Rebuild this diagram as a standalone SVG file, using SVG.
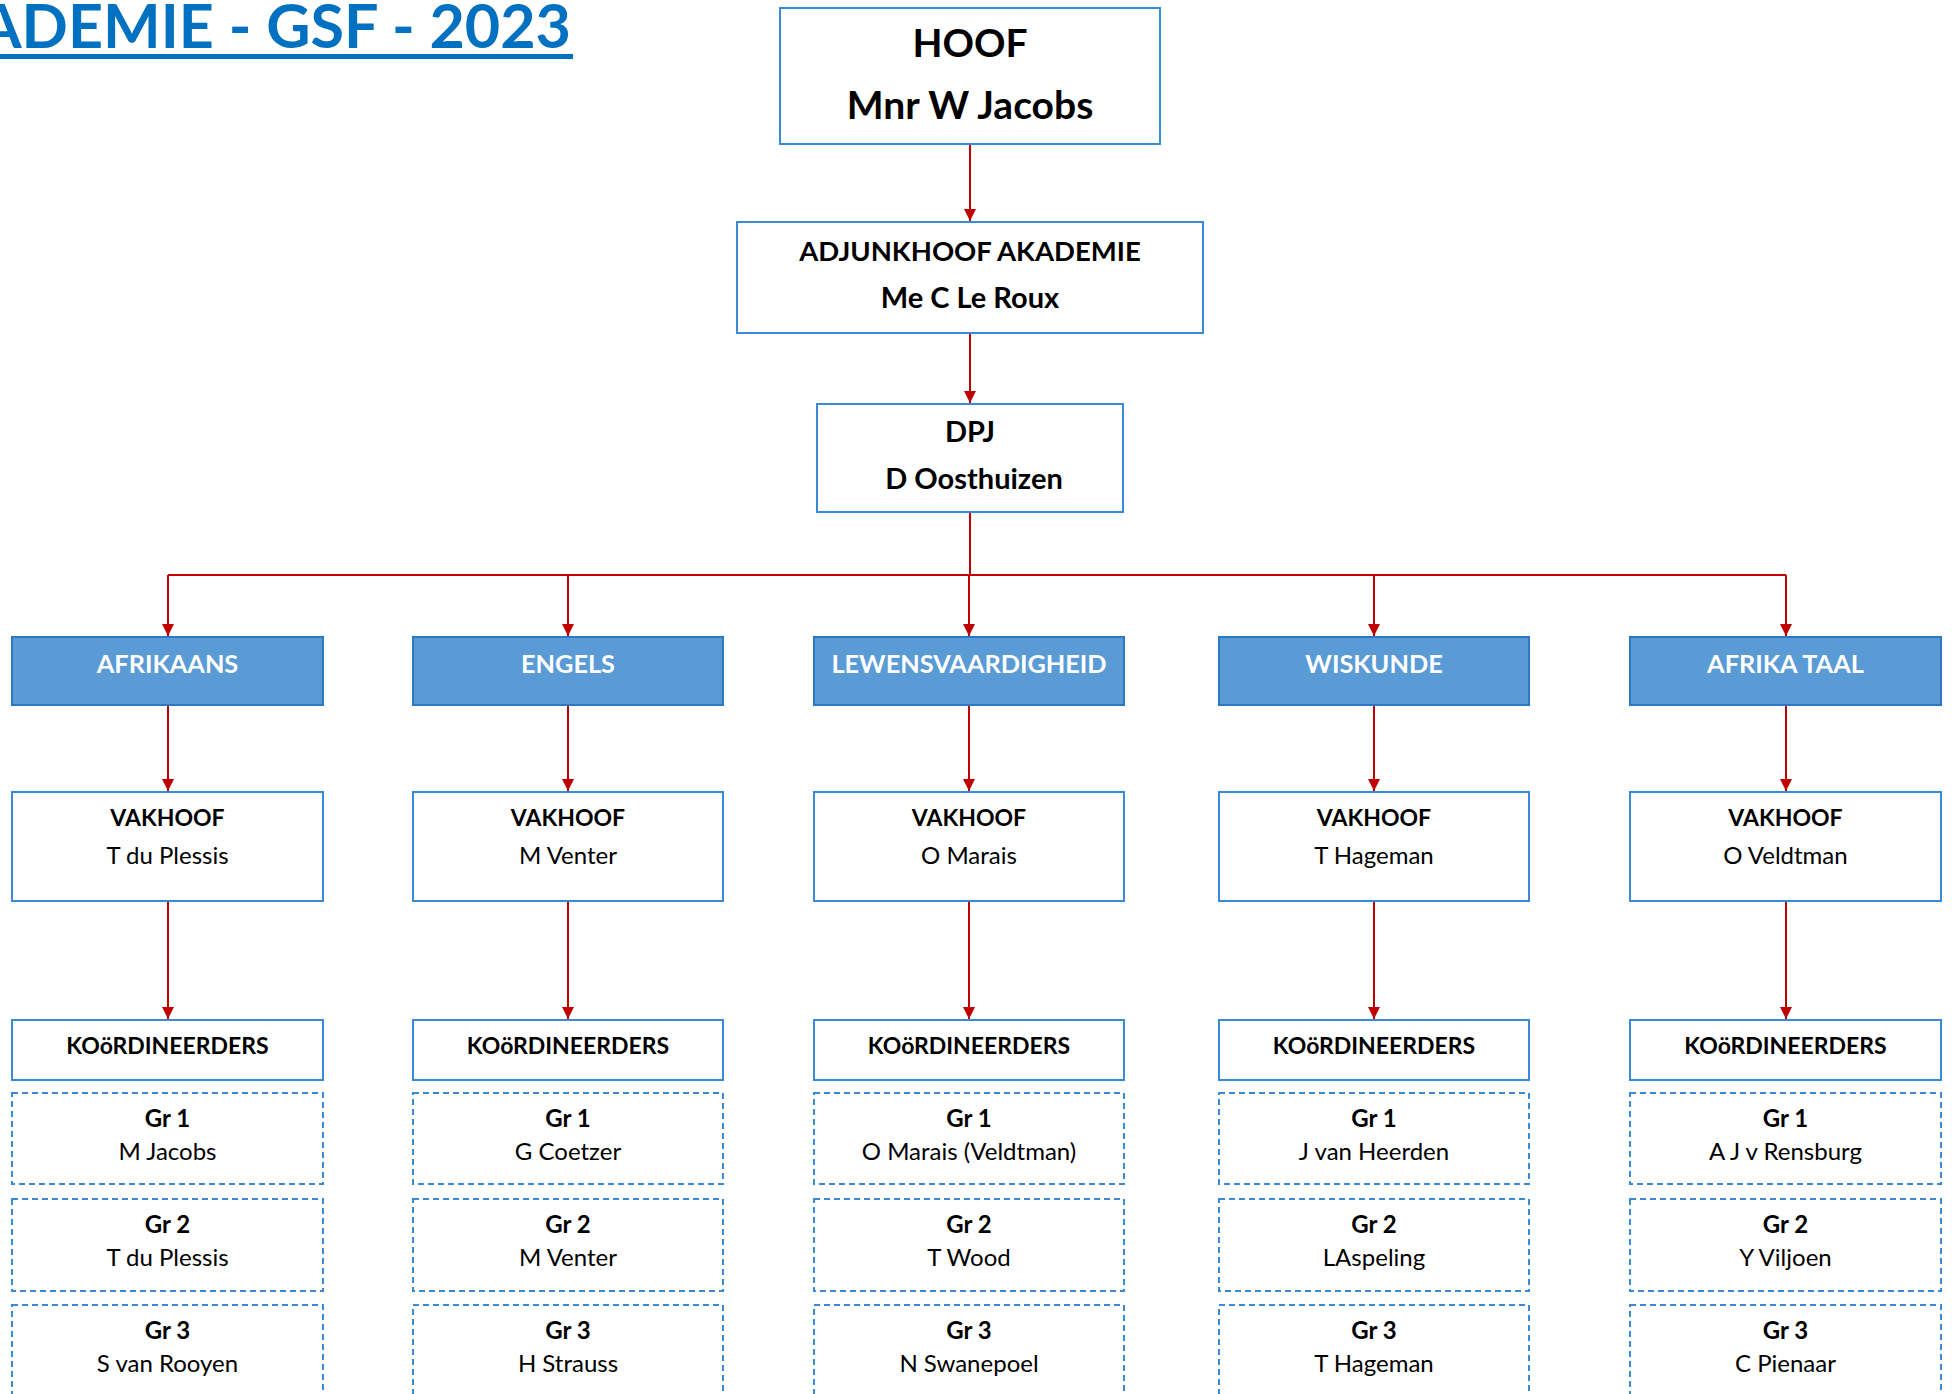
<svg xmlns="http://www.w3.org/2000/svg" width="1952" height="1394" viewBox="0 0 1952 1394">
<style>
text{font-family:Lato,"Open Sans","Liberation Sans",sans-serif;text-anchor:middle;fill:#000}
.b{font-weight:700}
.box{fill:#fff;stroke:#3A8BD6;stroke-width:2}
.hdr{fill:#5B9BD5;stroke:#2A78C6;stroke-width:2}
.dash{fill:#fff;stroke:#3A8BD6;stroke-width:2;stroke-dasharray:6 4}
.t1{font-size:39px;font-weight:700}
.t2{font-size:29px;font-weight:700}
.t2u{font-size:27.5px;font-weight:700}
.th{font-size:25.3px;font-weight:700;fill:#fff}
.t3{font-size:24px}
.tu{font-size:23px;font-weight:700}
.conn{fill:none;stroke:#C00000;stroke-width:2}
</style>
<defs>
<marker id="arr" markerUnits="userSpaceOnUse" markerWidth="12" markerHeight="12" refX="10" refY="5" orient="auto" viewBox="0 0 10 10">
<path d="M0,0 L10,5 L0,10 z" fill="#C00000"/>
</marker>
</defs>
<rect width="1952" height="1394" fill="#fff"/>
<g id="title">
<text x="571" y="48" style="font-size:61px;font-weight:700;fill:#0070C0;text-anchor:end">ADEMIE - GSF - 2023</text>
<rect x="0" y="54" width="573" height="5" fill="#0070C0"/>
</g>
<g id="connectors">
<path class="conn" d="M970,144 V221" marker-end="url(#arr)"/>
<path class="conn" d="M970,333 V403" marker-end="url(#arr)"/>
<path class="conn" d="M970,512 V575 M168,575 H1786"/>
<path class="conn" d="M168,575 V636" marker-end="url(#arr)"/>
<path class="conn" d="M568,575 V636" marker-end="url(#arr)"/>
<path class="conn" d="M969,575 V636" marker-end="url(#arr)"/>
<path class="conn" d="M1374,575 V636" marker-end="url(#arr)"/>
<path class="conn" d="M1786,575 V636" marker-end="url(#arr)"/>
<path class="conn" d="M168,705 V791" marker-end="url(#arr)"/>
<path class="conn" d="M568,705 V791" marker-end="url(#arr)"/>
<path class="conn" d="M969,705 V791" marker-end="url(#arr)"/>
<path class="conn" d="M1374,705 V791" marker-end="url(#arr)"/>
<path class="conn" d="M1786,705 V791" marker-end="url(#arr)"/>
<path class="conn" d="M168,901 V1019" marker-end="url(#arr)"/>
<path class="conn" d="M568,901 V1019" marker-end="url(#arr)"/>
<path class="conn" d="M969,901 V1019" marker-end="url(#arr)"/>
<path class="conn" d="M1374,901 V1019" marker-end="url(#arr)"/>
<path class="conn" d="M1786,901 V1019" marker-end="url(#arr)"/>
</g>
<g id="hoof">
<rect class="box" x="780" y="8" width="380" height="136"/>
<text class="t1" x="970" y="57">HOOF</text>
<text class="t1" x="970" y="119">Mnr W Jacobs</text>
</g>
<g id="adjunkhoof">
<rect class="box" x="737" y="222" width="466" height="111"/>
<text class="t2u" x="970" y="261">ADJUNKHOOF AKADEMIE</text>
<text class="t2" x="970" y="308">Me C Le Roux</text>
</g>
<g id="dpj">
<rect class="box" x="817" y="404" width="306" height="108"/>
<text class="t2" x="970" y="442">DPJ</text>
<text class="t2" x="974" y="489">D Oosthuizen</text>
</g>

<g id="afrikaans">
<rect class="hdr" x="12" y="637" width="311" height="68"/>
<text class="th" x="167.5" y="673">AFRIKAANS</text>
</g>
<g id="vakhoof-afrikaans">
<rect class="box" x="12" y="792" width="311" height="109"/>
<text class="tu" x="167.5" y="826">VAKHOOF</text>
<text class="t3" x="167.5" y="864">T du Plessis</text>
</g>
<g id="koord-afrikaans">
<rect class="box" x="12" y="1020" width="311" height="60"/>
<text class="tu" x="167.5" y="1054">KOöRDINEERDERS</text>
</g>
<g id="afrikaans-gr1">
<rect class="dash" x="12" y="1093" width="311" height="91"/>
<text class="t3 b" x="167.5" y="1127">Gr 1</text>
<text class="t3" x="167.5" y="1160">M Jacobs</text>
</g>
<g id="afrikaans-gr2">
<rect class="dash" x="12" y="1199" width="311" height="92"/>
<text class="t3 b" x="167.5" y="1233">Gr 2</text>
<text class="t3" x="167.5" y="1266">T du Plessis</text>
</g>
<g id="afrikaans-gr3">
<rect class="dash" x="12" y="1305" width="311" height="100"/>
<text class="t3 b" x="167.5" y="1339">Gr 3</text>
<text class="t3" x="167.5" y="1372">S van Rooyen</text>
</g>

<g id="engels">
<rect class="hdr" x="413" y="637" width="310" height="68"/>
<text class="th" x="568" y="673">ENGELS</text>
</g>
<g id="vakhoof-engels">
<rect class="box" x="413" y="792" width="310" height="109"/>
<text class="tu" x="568" y="826">VAKHOOF</text>
<text class="t3" x="568" y="864">M Venter</text>
</g>
<g id="koord-engels">
<rect class="box" x="413" y="1020" width="310" height="60"/>
<text class="tu" x="568" y="1054">KOöRDINEERDERS</text>
</g>
<g id="engels-gr1">
<rect class="dash" x="413" y="1093" width="310" height="91"/>
<text class="t3 b" x="568" y="1127">Gr 1</text>
<text class="t3" x="568" y="1160">G Coetzer</text>
</g>
<g id="engels-gr2">
<rect class="dash" x="413" y="1199" width="310" height="92"/>
<text class="t3 b" x="568" y="1233">Gr 2</text>
<text class="t3" x="568" y="1266">M Venter</text>
</g>
<g id="engels-gr3">
<rect class="dash" x="413" y="1305" width="310" height="100"/>
<text class="t3 b" x="568" y="1339">Gr 3</text>
<text class="t3" x="568" y="1372">H Strauss</text>
</g>

<g id="lewensvaardigheid">
<rect class="hdr" x="814" y="637" width="310" height="68"/>
<text class="th" x="969" y="673">LEWENSVAARDIGHEID</text>
</g>
<g id="vakhoof-lewensvaardigheid">
<rect class="box" x="814" y="792" width="310" height="109"/>
<text class="tu" x="969" y="826">VAKHOOF</text>
<text class="t3" x="969" y="864">O Marais</text>
</g>
<g id="koord-lewensvaardigheid">
<rect class="box" x="814" y="1020" width="310" height="60"/>
<text class="tu" x="969" y="1054">KOöRDINEERDERS</text>
</g>
<g id="lewensvaardigheid-gr1">
<rect class="dash" x="814" y="1093" width="310" height="91"/>
<text class="t3 b" x="969" y="1127">Gr 1</text>
<text class="t3" x="969" y="1160">O Marais (Veldtman)</text>
</g>
<g id="lewensvaardigheid-gr2">
<rect class="dash" x="814" y="1199" width="310" height="92"/>
<text class="t3 b" x="969" y="1233">Gr 2</text>
<text class="t3" x="969" y="1266">T Wood</text>
</g>
<g id="lewensvaardigheid-gr3">
<rect class="dash" x="814" y="1305" width="310" height="100"/>
<text class="t3 b" x="969" y="1339">Gr 3</text>
<text class="t3" x="969" y="1372">N Swanepoel</text>
</g>

<g id="wiskunde">
<rect class="hdr" x="1219" y="637" width="310" height="68"/>
<text class="th" x="1374" y="673">WISKUNDE</text>
</g>
<g id="vakhoof-wiskunde">
<rect class="box" x="1219" y="792" width="310" height="109"/>
<text class="tu" x="1374" y="826">VAKHOOF</text>
<text class="t3" x="1374" y="864">T Hageman</text>
</g>
<g id="koord-wiskunde">
<rect class="box" x="1219" y="1020" width="310" height="60"/>
<text class="tu" x="1374" y="1054">KOöRDINEERDERS</text>
</g>
<g id="wiskunde-gr1">
<rect class="dash" x="1219" y="1093" width="310" height="91"/>
<text class="t3 b" x="1374" y="1127">Gr 1</text>
<text class="t3" x="1374" y="1160">J van Heerden</text>
</g>
<g id="wiskunde-gr2">
<rect class="dash" x="1219" y="1199" width="310" height="92"/>
<text class="t3 b" x="1374" y="1233">Gr 2</text>
<text class="t3" x="1374" y="1266">LAspeling</text>
</g>
<g id="wiskunde-gr3">
<rect class="dash" x="1219" y="1305" width="310" height="100"/>
<text class="t3 b" x="1374" y="1339">Gr 3</text>
<text class="t3" x="1374" y="1372">T Hageman</text>
</g>

<g id="afrika-taal">
<rect class="hdr" x="1630" y="637" width="311" height="68"/>
<text class="th" x="1785.5" y="673">AFRIKA TAAL</text>
</g>
<g id="vakhoof-afrika-taal">
<rect class="box" x="1630" y="792" width="311" height="109"/>
<text class="tu" x="1785.5" y="826">VAKHOOF</text>
<text class="t3" x="1785.5" y="864">O Veldtman</text>
</g>
<g id="koord-afrika-taal">
<rect class="box" x="1630" y="1020" width="311" height="60"/>
<text class="tu" x="1785.5" y="1054">KOöRDINEERDERS</text>
</g>
<g id="afrika-taal-gr1">
<rect class="dash" x="1630" y="1093" width="311" height="91"/>
<text class="t3 b" x="1785.5" y="1127">Gr 1</text>
<text class="t3" x="1785.5" y="1160">A J v Rensburg</text>
</g>
<g id="afrika-taal-gr2">
<rect class="dash" x="1630" y="1199" width="311" height="92"/>
<text class="t3 b" x="1785.5" y="1233">Gr 2</text>
<text class="t3" x="1785.5" y="1266">Y Viljoen</text>
</g>
<g id="afrika-taal-gr3">
<rect class="dash" x="1630" y="1305" width="311" height="100"/>
<text class="t3 b" x="1785.5" y="1339">Gr 3</text>
<text class="t3" x="1785.5" y="1372">C Pienaar</text>
</g>
</svg>
